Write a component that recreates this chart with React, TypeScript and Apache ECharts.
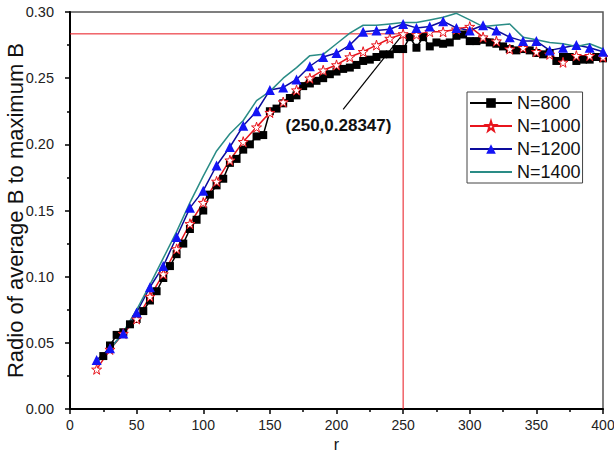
import React, { useEffect, useRef } from "react";
import * as echarts from "echarts";

// r values
const R_800 = [25, 30, 35, 40, 45, 50, 55, 60, 65, 70, 75, 80, 85, 90, 95, 100, 105, 110, 115, 120, 125, 130, 135, 140, 145, 150, 155, 160, 165, 170, 175, 180, 185, 190, 195, 200, 205, 210, 215, 220, 225, 230, 235, 240, 245, 250, 255, 260, 265, 270, 275, 280, 285, 290, 295, 300, 305, 310, 315, 320, 325, 330, 335, 340, 345, 350, 355, 360, 365, 370, 375, 380, 385, 390, 395, 400];
const R_10 = [20, 30, 40, 50, 60, 70, 80, 90, 100, 110, 120, 130, 140, 150, 160, 170, 180, 190, 200, 210, 220, 230, 240, 250, 260, 270, 280, 290, 300, 310, 320, 330, 340, 350, 360, 370, 380, 390, 400];

const N800 = [0.040, 0.048, 0.056, 0.058, 0.064, 0.068, 0.074, 0.082, 0.089, 0.099, 0.108, 0.117, 0.125, 0.136, 0.143, 0.150, 0.162, 0.169, 0.174, 0.186, 0.189, 0.196, 0.200, 0.206, 0.207, 0.225, 0.227, 0.231, 0.235, 0.237, 0.244, 0.246, 0.248, 0.250, 0.253, 0.255, 0.257, 0.258, 0.260, 0.263, 0.264, 0.266, 0.268, 0.268, 0.272, 0.272, 0.281, 0.273, 0.281, 0.274, 0.277, 0.276, 0.277, 0.282, 0.283, 0.278, 0.278, 0.279, 0.277, 0.276, 0.274, 0.272, 0.271, 0.272, 0.271, 0.269, 0.268, 0.269, 0.263, 0.266, 0.266, 0.263, 0.264, 0.264, 0.266, 0.265];
const N1000 = [0.030, 0.045, 0.057, 0.068, 0.085, 0.102, 0.121, 0.140, 0.156, 0.172, 0.188, 0.202, 0.213, 0.224, 0.232, 0.241, 0.250, 0.256, 0.260, 0.266, 0.270, 0.275, 0.280, 0.28347, 0.283, 0.285, 0.285, 0.287, 0.289, 0.281, 0.278, 0.272, 0.273, 0.270, 0.268, 0.262, 0.267, 0.267, 0.266];
const N1200 = [0.037, 0.046, 0.057, 0.073, 0.092, 0.108, 0.130, 0.152, 0.165, 0.184, 0.198, 0.214, 0.225, 0.241, 0.243, 0.249, 0.259, 0.266, 0.269, 0.275, 0.285, 0.286, 0.287, 0.291, 0.288, 0.289, 0.293, 0.288, 0.286, 0.290, 0.286, 0.281, 0.278, 0.278, 0.271, 0.273, 0.275, 0.273, 0.270];
const N1400 = [0.035, 0.045, 0.058, 0.075, 0.094, 0.114, 0.134, 0.156, 0.176, 0.195, 0.208, 0.218, 0.233, 0.240, 0.250, 0.258, 0.267, 0.268, 0.276, 0.284, 0.290, 0.290, 0.291, 0.292, 0.292, 0.294, 0.296, 0.299, 0.294, 0.289, 0.290, 0.291, 0.281, 0.279, 0.277, 0.276, 0.274, 0.276, 0.272];

const SERIES_NAMES = ["N=800", "N=1000", "N=1200", "N=1400"];
const X_TICKS = [0, 400, 50];
const Y_TICKS = [0, 0.3, 0.05];
const MARK = [250, 0.28347];
const LABEL_TAIL = [205, 0.2265];
const LABEL_POS = [201.5, 0.2144];

const STAR = "path://M50,0 L61,35 L98,35 L68,57 L79,91 L50,70 L21,91 L32,57 L2,35 L39,35 Z";
const FONT = "'Liberation Sans', Arial, sans-serif";

const pairs = (xs: number[], ys: number[]) => xs.map((x, i) => [x, ys[i]]);

export default function App() {
  const ref = useRef<HTMLDivElement>(null);
  useEffect(() => {
    if (!ref.current) return;
    const chart = echarts.init(ref.current, null, { renderer: "svg" });
    const red = "#e8141c";
    const helper = (name: string, data: number[][], color: string, width: number) => ({
      name,
      type: "line",
      data,
      symbol: "none",
      showSymbol: false,
      silent: true,
      lineStyle: { color, width, type: "solid" },
      itemStyle: { color },
      z: 1,
    });
    chart.setOption({
      animation: false,
      backgroundColor: "#fff",
      textStyle: { fontFamily: FONT },
      grid: {
        left: 70,
        right: 11,
        top: 12,
        bottom: 46,
        show: true,
        borderColor: "#555",
        borderWidth: 1.5,
        outerBoundsMode: "none",
        containLabel: false,
      },
      legend: {
        orient: "vertical",
        left: 467,
        top: 92,
        itemWidth: 42,
        itemHeight: 12,
        itemGap: 5,
        padding: [2, 2, 2, 2],
        borderColor: "#444",
        borderWidth: 1,
        backgroundColor: "#fff",
        textStyle: { fontSize: 18, lineHeight: 18, color: "#111", fontFamily: FONT },
        data: [
          SERIES_NAMES[0],
          SERIES_NAMES[1],
          SERIES_NAMES[2],
          { name: SERIES_NAMES[3], itemStyle: { color: "rgba(0,0,0,0)", borderWidth: 0, opacity: 0 } },
        ],
      },
      xAxis: {
        type: "value",
        min: X_TICKS[0],
        max: X_TICKS[1],
        interval: X_TICKS[2],
        name: "r",
        nameLocation: "middle",
        nameGap: 27,
        nameMoveOverlap: false,
        nameTextStyle: { fontSize: 16, color: "#111", fontFamily: FONT },
        axisLine: { lineStyle: { color: "#000", width: 2 } },
        axisTick: { length: 5, lineStyle: { color: "#000", width: 1.5 } },
        minorTick: { show: true, splitNumber: 2, length: 3, lineStyle: { color: "#000", width: 1.5 } },
        axisLabel: { fontSize: 14, color: "#222", margin: 9, fontFamily: FONT },
        splitLine: { show: false },
      },
      yAxis: {
        type: "value",
        min: Y_TICKS[0],
        max: Y_TICKS[1],
        interval: Y_TICKS[2],
        name: "Radio of average B to maximum B",
        nameLocation: "middle",
        nameGap: 44,
        nameMoveOverlap: false,
        nameTextStyle: { fontSize: 22, color: "#111", fontFamily: FONT },
        axisLine: { lineStyle: { color: "#000", width: 2 } },
        axisTick: { length: 5, lineStyle: { color: "#000", width: 1.5 } },
        minorTick: { show: true, splitNumber: 2, length: 3, lineStyle: { color: "#000", width: 1.5 } },
        axisLabel: { fontSize: 14.5, color: "#222", margin: 16, fontFamily: FONT, formatter: (v: number) => v.toFixed(2) },
        splitLine: { show: false },
      },
      series: [
        helper("refH", [[X_TICKS[0], MARK[1]], [MARK[0], MARK[1]]], red, 1),
        helper("refV", [[MARK[0], Y_TICKS[0]], [MARK[0], MARK[1]]], red, 1),
        helper("pointer", [LABEL_TAIL, MARK], "#000", 1.2),
        {
          name: SERIES_NAMES[0],
          type: "line",
          data: pairs(R_800, N800),
          symbol: "rect",
          symbolSize: 8,
          lineStyle: { color: "#000", width: 1.5 },
          itemStyle: { color: "#000" },
        },
        {
          name: SERIES_NAMES[1],
          type: "line",
          data: pairs(R_10, N1000),
          symbol: STAR,
          symbolSize: 10,
          lineStyle: { color: red, width: 1.5 },
          itemStyle: { color: "#fff", borderColor: red, borderWidth: 1 },
          markPoint: {
            silent: true,
            symbol: "circle",
            symbolSize: 1,
            itemStyle: { color: "rgba(0,0,0,0)" },
            data: [
              {
                coord: LABEL_POS,
                label: {
                  show: true,
                  position: "inside",
                  formatter: `(${MARK[0]},${MARK[1]})`,
                  color: "#111",
                  fontWeight: "bold",
                  fontSize: 17,
                  fontFamily: FONT,
                },
              },
            ],
          },
        },
        {
          name: SERIES_NAMES[2],
          type: "line",
          data: pairs(R_10, N1200),
          symbol: "triangle",
          symbolSize: 10,
          lineStyle: { color: "#0c0c9c", width: 1.5 },
          itemStyle: { color: "#1414f5" },
        },
        {
          name: SERIES_NAMES[3],
          type: "line",
          data: pairs(R_10, N1400),
          symbol: "none",
          showSymbol: false,
          lineStyle: { color: "#2a8c86", width: 1.5 },
          itemStyle: { color: "#2a8c86" },
        },
      ],
    });
    return () => chart.dispose();
  }, []);
  return <div ref={ref} style={{ position: "absolute", left: 0, top: 0, width: 614, height: 455 }} />;
}
